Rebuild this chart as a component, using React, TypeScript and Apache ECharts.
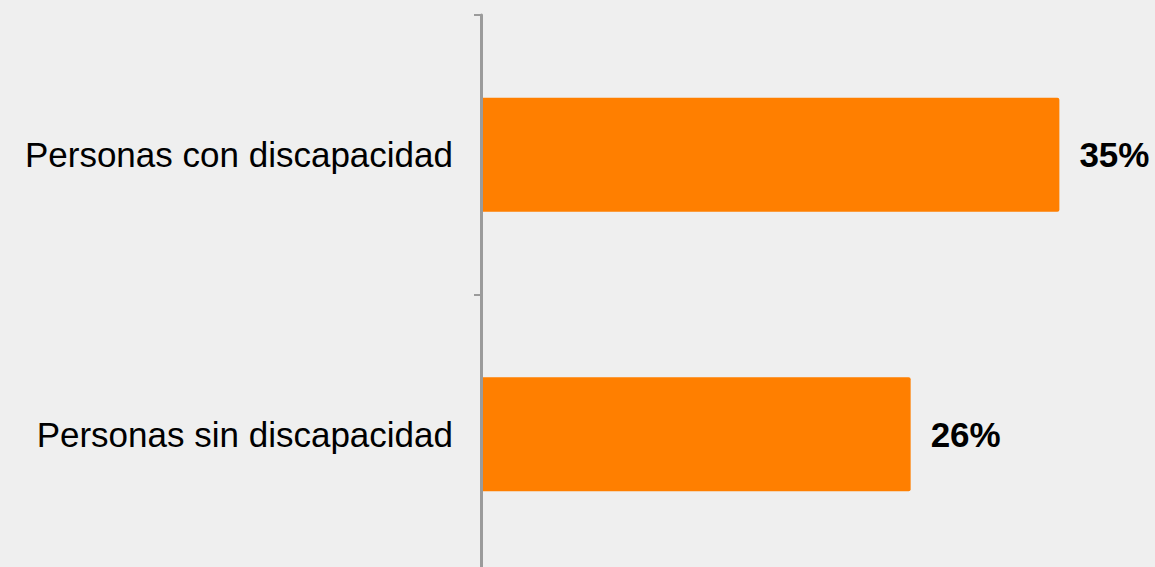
import React, { useEffect, useRef } from "react";
import * as echarts from "echarts";

const categories = ["Personas sin discapacidad", "Personas con discapacidad"];
const values = [26, 35];

export default function App() {
  const ref = useRef<HTMLDivElement>(null);
  useEffect(() => {
    if (!ref.current) return;
    const chart = echarts.init(ref.current, null, { renderer: "svg" });
    chart.setOption({
      animation: false,
      backgroundColor: "#efefef",
      textStyle: { fontFamily: "Liberation Sans, Arial, Helvetica, sans-serif" },
      grid: { left: 481, top: 15, width: 661, height: 559, containLabel: false },
      xAxis: {
        type: "value",
        min: 0,
        max: 40,
        show: false,
      },
      yAxis: {
        type: "category",
        data: categories,
        offset: 3,
        z: 5,
        axisLine: { show: true, lineStyle: { color: "#9b9b9b", width: 3 } },
        axisTick: { show: true, length: 7, lineStyle: { color: "#9b9b9b", width: 2 } },
        axisLabel: {
          margin: 25,
          fontSize: 35,
          color: "#000000",
          fontFamily: "Liberation Sans, Arial, Helvetica, sans-serif",
        },
        splitLine: { show: false },
      },
      series: [
        {
          type: "bar",
          data: values,
          barWidth: 114,
          itemStyle: { color: "#ff7f00", borderRadius: 2 },
          label: {
            show: true,
            position: "right",
            distance: 20,
            formatter: "{c}%",
            fontSize: 35,
            fontWeight: "bold",
            color: "#000000",
            fontFamily: "Liberation Sans, Arial, Helvetica, sans-serif",
          },
        },
      ],
    });
    return () => chart.dispose();
  }, []);
  return (
    <div style={{ position: "fixed", left: 0, top: 0, width: 1155, height: 567, overflow: "hidden" }}>
      <div ref={ref} style={{ width: 1155, height: 590 }} />
    </div>
  );
}
